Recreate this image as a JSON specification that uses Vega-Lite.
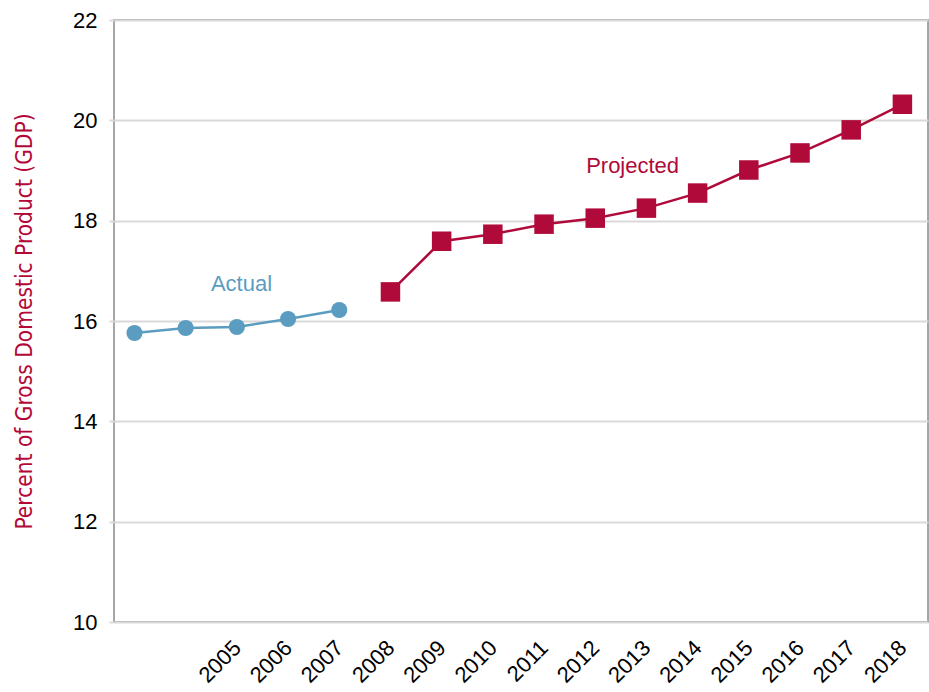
{
  "$schema": "https://vega.github.io/schema/vega-lite/v6.json",
  "width": 814,
  "height": 602,
  "autosize": "none",
  "padding": {"left": 114, "top": 20, "right": 1, "bottom": 70},
  "background": "white",
  "config": {
    "view": {"stroke": "#a6a6a6", "strokeWidth": 2},
    "font": "Liberation Sans"
  },
  "datasets": {
    "vals": [
      {"year": 2003, "value": 15.76, "series": "Actual"},
      {"year": 2004, "value": 15.86, "series": "Actual"},
      {"year": 2005, "value": 15.88, "series": "Actual"},
      {"year": 2006, "value": 16.04, "series": "Actual"},
      {"year": 2007, "value": 16.22, "series": "Actual"},
      {"year": 2008, "value": 16.58, "series": "Projected"},
      {"year": 2009, "value": 17.59, "series": "Projected"},
      {"year": 2010, "value": 17.73, "series": "Projected"},
      {"year": 2011, "value": 17.93, "series": "Projected"},
      {"year": 2012, "value": 18.05, "series": "Projected"},
      {"year": 2013, "value": 18.25, "series": "Projected"},
      {"year": 2014, "value": 18.55, "series": "Projected"},
      {"year": 2015, "value": 19.01, "series": "Projected"},
      {"year": 2016, "value": 19.35, "series": "Projected"},
      {"year": 2017, "value": 19.81, "series": "Projected"},
      {"year": 2018, "value": 20.32, "series": "Projected"}
    ],
    "labels": [
      {"year": 2005.09, "value": 16.74, "series": "Actual", "text": "Actual"},
      {"year": 2012.73, "value": 19.09, "series": "Projected", "text": "Projected"}
    ]
  },
  "encoding": {
    "x": {
      "field": "year", "type": "quantitative",
      "scale": {"domain": [2002.6, 2018.5], "nice": false, "zero": false},
      "axis": {
        "values": [2005, 2006, 2007, 2008, 2009, 2010, 2011, 2012, 2013, 2014, 2015, 2016, 2017, 2018],
        "format": "d", "title": null, "grid": false, "ticks": false, "domain": false,
        "labelAngle": -45, "labelAlign": "right", "labelBaseline": "middle",
        "labelFontSize": 22, "labelColor": "#000000", "labelPadding": 22
      }
    },
    "y": {
      "field": "value", "type": "quantitative",
      "scale": {"domain": [10, 22], "nice": false, "zero": false},
      "axis": {
        "values": [10, 12, 14, 16, 18, 20, 22],
        "title": "Percent of Gross Domestic Product (GDP)",
        "titleColor": "#b30838", "titleFontSize": 22.5, "titleFontWeight": "normal",
        "titleFont": "DejaVu Sans Condensed, Liberation Sans", "titlePadding": 36,
        "grid": true, "gridColor": "#d9d9d9", "gridWidth": 2,
        "tickColor": "#d9d9d9", "tickWidth": 2, "tickSize": 5,
        "domain": false, "labelFontSize": 22, "labelColor": "#000000", "labelPadding": 12
      }
    },
    "color": {
      "field": "series", "type": "nominal",
      "scale": {"domain": ["Actual", "Projected"], "range": ["#5b9dc1", "#b00a3a"]},
      "legend": null
    }
  },
  "layer": [
    {"data": {"name": "vals"}, "mark": {"type": "line", "strokeWidth": 2.5}},
    {
      "data": {"name": "vals"},
      "mark": {"type": "point", "filled": true, "opacity": 1},
      "encoding": {
        "shape": {"field": "series", "type": "nominal", "scale": {"domain": ["Actual", "Projected"], "range": ["circle", "square"]}, "legend": null},
        "size": {"field": "series", "type": "nominal", "scale": {"domain": ["Actual", "Projected"], "range": [260, 380]}, "legend": null}
      }
    },
    {
      "data": {"name": "labels"},
      "mark": {"type": "text", "fontSize": 22, "align": "center", "baseline": "middle"},
      "encoding": {"text": {"field": "text", "type": "nominal"}}
    }
  ]
}
